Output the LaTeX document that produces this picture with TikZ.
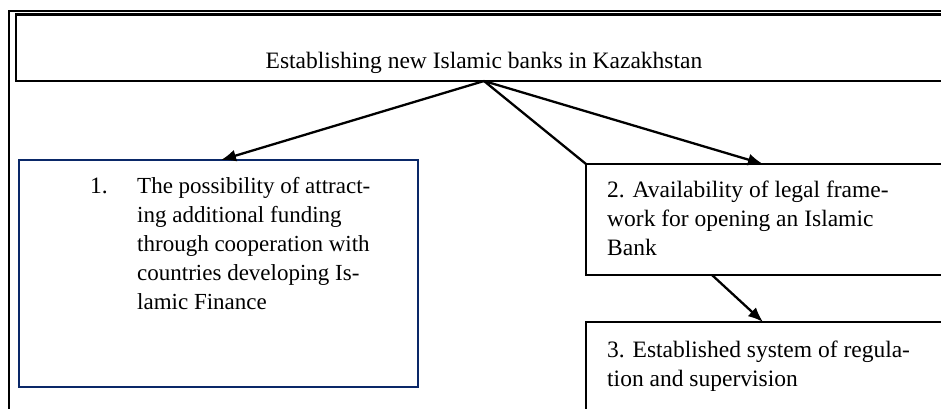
\documentclass[tikz,border=0pt]{standalone}
\usepackage{fontspec}
\setmainfont{Liberation Serif}
\usetikzlibrary{arrows.meta,calc}
\definecolor{navy}{HTML}{0A2868}
\begin{document}
\begin{tikzpicture}[x=1pt,y=-1pt,
  boxline/.style={draw=black,line width=2.2pt},
  txt/.style={inner sep=0pt,align=left,font=\fontsize{23.5}{29}\selectfont},
  arr/.style={line width=2.3pt,-{Latex[length=15pt,width=12pt]}},
  plain/.style={line width=2.3pt}]
\useasboundingbox (0,0) rectangle (941,408);
\clip (0,0) rectangle (941,408);
% outer frame
\draw[line width=2.4pt] (9,11) rectangle (980,460);
% top box
\draw[boxline,line width=2.6pt] (16,14.5) rectangle (980,81);
\coordinate (o) at (484,81);
\node[txt,anchor=base] (title) at (484,68) {Establishing new Islamic banks in Kazakhstan};
% box 1
\draw[draw=navy,line width=2.6pt] (19,160) rectangle (418,387);
\coordinate (b1n) at (221,160);
\node[txt,anchor=base west] (n1) at (90,193) {1.};
\node[txt,anchor=north west,font=\fontsize{23}{29}\selectfont] (t1) at (137,177) {The possibility of attract-\\ing additional funding\\through cooperation with\\countries developing Is-\\lamic Finance};
% box 2
\draw[boxline] (586,164) rectangle (980,275);
\coordinate (b2nw) at (586,164);
\coordinate (b2n) at (763,164);
\coordinate (b2s) at (712,275);
\node[txt,anchor=north west] (t2) at (607,181) {2. Availability of legal frame-\\work for opening an Islamic\\Bank};
% box 3
\draw[boxline] (586,322) rectangle (980,460);
\coordinate (b3n) at (763,322);
\node[txt,anchor=north west] (t3) at (607,341) {3. Established system of regula-\\tion and supervision};
% connectors
\draw[arr] (o) -- (b1n);
\draw[arr] (o) -- (b2n);
\draw[plain] (o) -- (b2nw);
\draw[arr] (b2s) -- (b3n);
\end{tikzpicture}
\end{document}
